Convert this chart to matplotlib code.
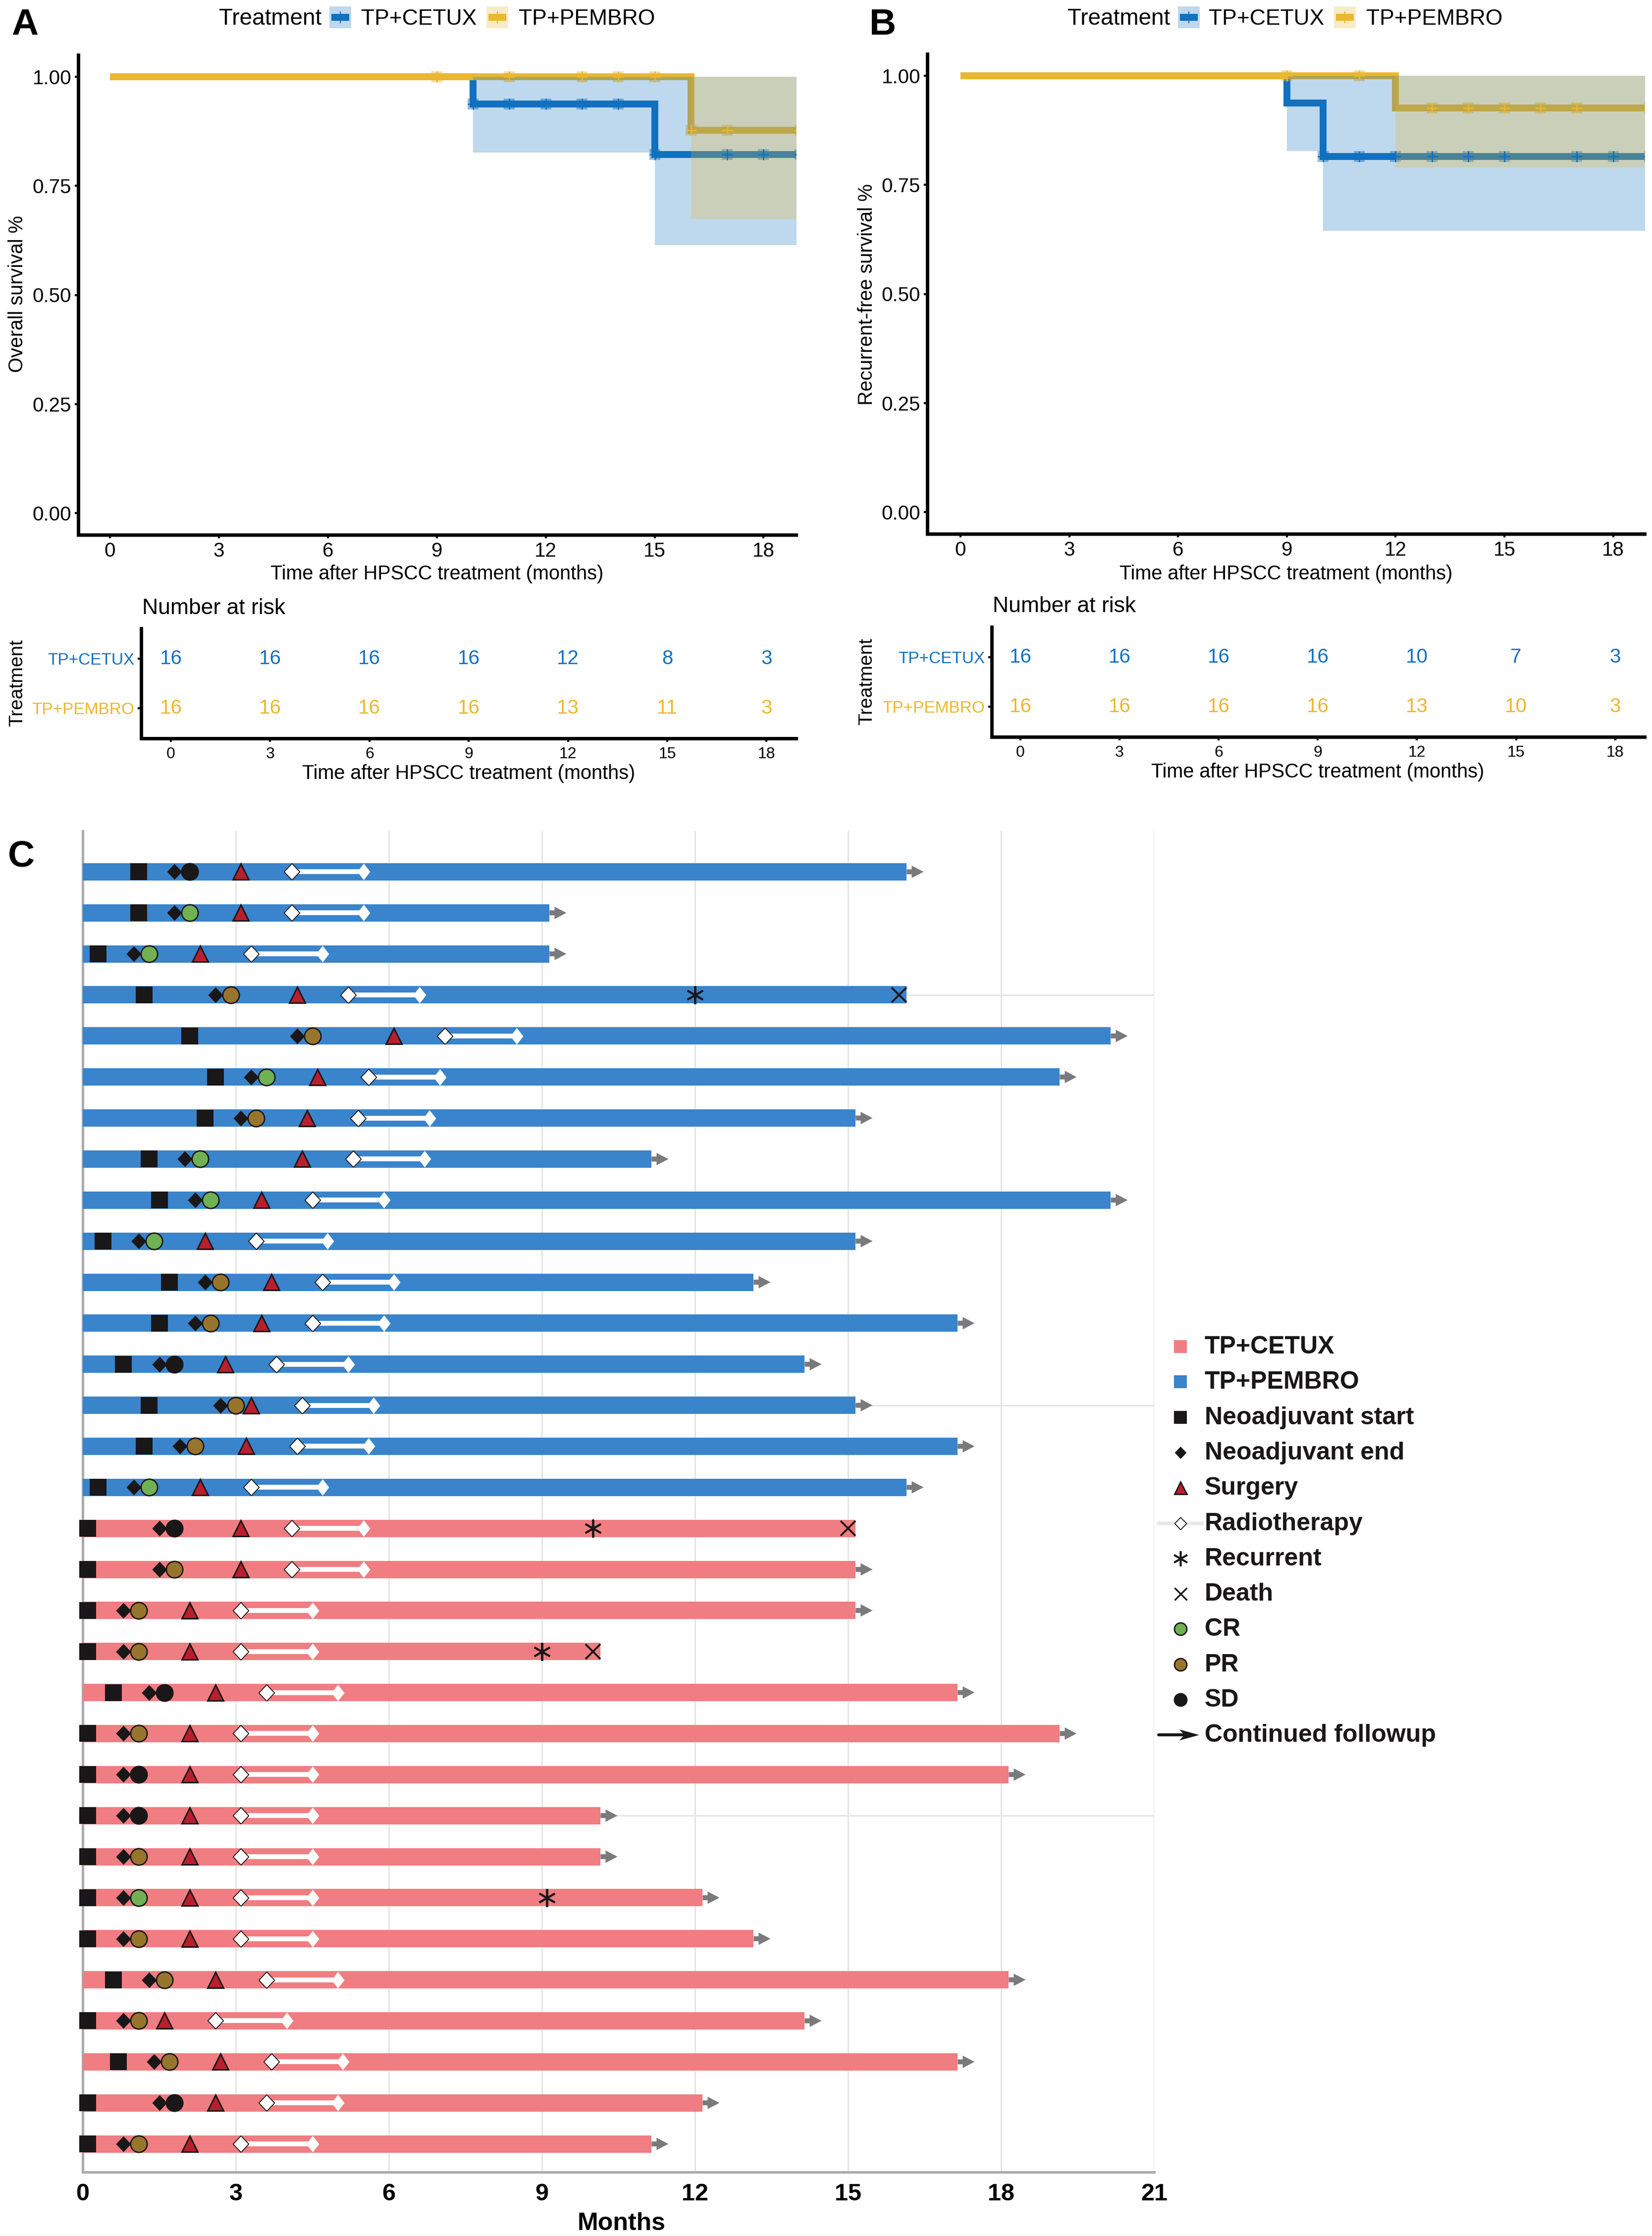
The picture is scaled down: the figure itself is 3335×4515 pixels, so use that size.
import matplotlib
matplotlib.use("Agg")
import matplotlib.pyplot as plt
from matplotlib.patches import Rectangle

W, H = 3335, 4515
plt.rcParams['font.family'] = ['Liberation Sans']

BLUE, GOLD = '#1170BF', '#EBB72F'
BAR_BLUE, BAR_RED = '#3A84CB', '#F07D82'
INK = '#1A1718'
RED_TRI, CR_C, PR_C = '#B81F2D', '#6FB153', '#98752D'
GREY_ARROW = '#7A7A7D'
TREATS = ['TP+CETUX', 'TP+PEMBRO']
KM_TICKS = [0, 3, 6, 9, 12, 15, 18]
KM_YTICKS = [0, 0.25, 0.5, 0.75, 1.0]

# Panel A: overall survival
A_ceT, A_ceS, A_ceL, A_ceU = [0, 10, 15, 19], [1, .9375, .822, .822], [1, .826, .614, .614], [1, 1, 1, 1]
A_peT, A_peS, A_peL, A_peU = [0, 16, 19], [1, .877, .877], [1, .674, .674], [1, 1, 1]
A_ceCens = [10, 11, 12, 13, 14, 15, 17, 18, 19]
A_peCens = [9, 11, 13, 14, 15, 16, 17, 19]
A_risk = [[16, 16, 16, 16, 12, 8, 3], [16, 16, 16, 16, 13, 11, 3]]

# Panel B: recurrence-free survival
B_ceT, B_ceS, B_ceL, B_ceU = [0, 9, 10, 19], [1, .9375, .8145, .8145], [1, .828, .645, .645], [1, 1, 1, 1]
B_peT, B_peS, B_peL, B_peU = [0, 12, 19], [1, .926, .926], [1, .79, .79], [1, 1, 1]
B_ceCens = [10, 11, 12, 13, 14, 15, 17, 18, 19]
B_peCens = [9, 11, 13, 14, 15, 16, 17, 19]
B_risk = [[16, 16, 16, 16, 10, 7, 3], [16, 16, 16, 16, 13, 10, 3]]

# Panel C: swimmer plot, top row first
neo_start = [1.1, 1.1, .3, 1.2, 2.1, 2.6, 2.4, 1.3, 1.5, .4, 1.7, 1.5, .8, 1.3, 1.2, .3,
             .1, .1, .1, .1, .6, .1, .1, .1, .1, .1, .1, .6, .1, .7, .1, .1]
neo_end = [1.8, 1.8, 1.0, 2.6, 4.2, 3.3, 3.1, 2.0, 2.2, 1.1, 2.4, 2.2, 1.5, 2.7, 1.9, 1.0,
           1.5, 1.5, .8, .8, 1.3, .8, .8, .8, .8, .8, .8, 1.3, .8, 1.4, 1.5, .8]
resp_time = [2.1, 2.1, 1.3, 2.9, 4.5, 3.6, 3.4, 2.3, 2.5, 1.4, 2.7, 2.5, 1.8, 3.0, 2.2, 1.3,
             1.8, 1.8, 1.1, 1.1, 1.6, 1.1, 1.1, 1.1, 1.1, 1.1, 1.1, 1.6, 1.1, 1.7, 1.8, 1.1]
resp_type = ['SD', 'CR', 'CR', 'PR', 'PR', 'CR', 'PR', 'CR', 'CR', 'CR', 'PR', 'PR', 'SD', 'PR', 'PR', 'CR',
             'SD', 'PR', 'PR', 'PR', 'SD', 'PR', 'SD', 'SD', 'PR', 'CR', 'PR', 'PR', 'PR', 'PR', 'SD', 'PR']
surgery = [3.1, 3.1, 2.3, 4.2, 6.1, 4.6, 4.4, 4.3, 3.5, 2.4, 3.7, 3.5, 2.8, 3.3, 3.2, 2.3,
           3.1, 3.1, 2.1, 2.1, 2.6, 2.1, 2.1, 2.1, 2.1, 2.1, 2.1, 2.6, 1.6, 2.7, 2.6, 2.1]
rt_start = [4.1, 4.1, 3.3, 5.2, 7.1, 5.6, 5.4, 5.3, 4.5, 3.4, 4.7, 4.5, 3.8, 4.3, 4.2, 3.3,
            4.1, 4.1, 3.1, 3.1, 3.6, 3.1, 3.1, 3.1, 3.1, 3.1, 3.1, 3.6, 2.6, 3.7, 3.6, 3.1]
rt_end = [5.5, 5.5, 4.7, 6.6, 8.5, 7.0, 6.8, 6.7, 5.9, 4.8, 6.1, 5.9, 5.2, 5.7, 5.6, 4.7,
          5.5, 5.5, 4.5, 4.5, 5.0, 4.5, 4.5, 4.5, 4.5, 4.5, 4.5, 5.0, 4.0, 5.1, 5.0, 4.5]
bar_end = [16.15, 9.15, 9.15, 16.15, 20.15, 19.15, 15.15, 11.15, 20.15, 15.15, 13.15, 17.15, 14.15, 15.15, 17.15, 16.15,
           15.15, 15.15, 15.15, 10.15, 17.15, 19.15, 18.15, 10.15, 10.15, 12.15, 13.15, 18.15, 14.15, 17.15, 12.15, 11.15]
bar_arm = ['PEMBRO'] * 16 + ['CETUX'] * 16
recurrent = {3: 12, 16: 10, 19: 9, 25: 9.1}
death = {3: 16, 16: 15, 19: 10}
grid_rows = [3, 13, 23]
C_TICKS = [0, 3, 6, 9, 12, 15, 18, 21]

LEGEND_LABELS = ['TP+CETUX', 'TP+PEMBRO', 'Neoadjuvant start', 'Neoadjuvant end', 'Surgery', 'Radiotherapy',
                 'Recurrent', 'Death', 'CR', 'PR', 'SD', 'Continued followup']

DIAMOND = [(0, -1), (.95, 0), (0, 1), (-.95, 0), (0, -1)]
RT_HEAD = [(0, -1), (.78, 0), (0, 1), (-.78, 0), (0, -1)]

fig = plt.figure(figsize=(W / 100, H / 100), dpi=100, facecolor='white')


def make_ax(L, T, R, B):
    return fig.add_axes([L / W, 1 - B / H, (R - L) / W, (B - T) / H])


def put(x, y, s, **kw):
    kw.setdefault('ha', 'center')
    kw.setdefault('va', 'center')
    return fig.text(x / W, 1 - y / H, s, **kw)


def km_panel(box, x0, unit, ce, pe, ceC, peC, ylabel, ylab_x):
    L, T, R, B = box
    ax = make_ax(L, T, R, B)
    ax.set_xlim((L - x0) / unit, (R - x0) / unit)
    ax.set_ylim(-0.05, 1.05)
    for (t, s, lo, up), col, cens, in ((ce, BLUE, ceC), (pe, GOLD, peC)):
        ax.step(t, s, where='post', color=col, lw=10, solid_joinstyle='miter', solid_capstyle='butt', zorder=2)
        ys = [s[[i for i, v in enumerate(t) if v <= c][-1]] for c in cens]
        ax.plot(cens, ys, ls='', marker='s', ms=16, color=col, alpha=.45, mew=0, zorder=2.1)
    for (t, s, lo, up), col in ((ce, BLUE), (pe, GOLD)):
        ax.fill_between(t, lo, up, step='post', color=col, alpha=.27, lw=0, zorder=3)
    for (t, s, lo, up), col, cens in ((ce, BLUE, ceC), (pe, GOLD, peC)):
        ys = [s[[i for i, v in enumerate(t) if v <= c][-1]] for c in cens]
        ax.plot(cens, ys, ls='', marker='+', ms=16, mew=2, color=col, zorder=4)
    for sp in ('top', 'right'):
        ax.spines[sp].set_visible(False)
    for sp in ('left', 'bottom'):
        ax.spines[sp].set_linewidth(5)
    ax.set_xticks(KM_TICKS)
    ax.set_yticks(KM_YTICKS, ['0.00', '0.25', '0.50', '0.75', '1.00'])
    ax.tick_params(length=5, width=3, pad=5, labelsize=29)
    put((L + R) / 2, 1159, 'Time after HPSCC treatment (months)', fontsize=28.5)
    put(ylab_x, 594, ylabel, rotation=90, fontsize=28.5)
    return ax


def risk_panel(box, x0, unit, risk, treat_x, dy):
    L, T, R, B = box
    ax = make_ax(L, T, R, B)
    ax.set_xlim((L - x0) / unit, (R - x0) / unit)
    ax.set_ylim(0.4, 2.6)
    ypos = [2, 1]
    cols = [BLUE, GOLD]
    for row, y, c in zip(risk, ypos, cols):
        for x, n in zip(KM_TICKS, row):
            ax.text(x, y, str(n), color=c, fontsize=29, ha='center', va='center')
    for sp in ('top', 'right'):
        ax.spines[sp].set_visible(False)
    for sp in ('left', 'bottom'):
        ax.spines[sp].set_linewidth(5)
    ax.set_xticks(KM_TICKS)
    ax.set_yticks(ypos, TREATS)
    ax.tick_params(length=5, width=3, pad=5, labelsize=24)
    ax.tick_params(axis='x', labelsize=23, pad=7)
    for lab, c in zip(ax.get_yticklabels(), cols):
        lab.set_color(c)
    put(x0 + 9 * unit, 1562 + dy, 'Time after HPSCC treatment (months)', fontsize=28.5)
    put(L + 2, 1228 + dy, 'Number at risk', ha='left', fontsize=32)
    put(treat_x, 1379 + dy, 'Treatment', rotation=90, fontsize=28)
    return ax


km_panel((158, 111, 1607, 1080), 222, 73.3, (A_ceT, A_ceS, A_ceL, A_ceU), (A_peT, A_peS, A_peL, A_peU),
         A_ceCens, A_peCens, 'Overall survival %', 35)
km_panel((1872, 109, 3320, 1078), 1939, 73.2, (B_ceT, B_ceS, B_ceL, B_ceU), (B_peT, B_peS, B_peL, B_peU),
         B_ceCens, B_peCens, 'Recurrent-free survival %', 1750)
risk_panel((285, 1269, 1607, 1491), 345, 66.8, A_risk, 35, 0)
risk_panel((2002, 1266, 3320, 1488), 2060, 66.7, B_risk, 1750, -3)

# Panel C
ROW0, ROWH = 1760.4, 82.86
UNIT = 103.0
cax = make_ax(167, 1678, 2330, 4385.5)
cax.set_xlim(0, 21)
cax.set_ylim((4385.5 - ROW0) / ROWH, (1678 - ROW0) / ROWH)
for sp in ('top', 'right'):
    cax.spines[sp].set_visible(False)
for sp in ('left', 'bottom'):
    cax.spines[sp].set_linewidth(3.6)
    cax.spines[sp].set_color('#ABABAE')
    cax.spines[sp].set_zorder(1.5)
cax.set_xticks(C_TICKS)
cax.set_yticks([])
cax.tick_params(length=0, pad=16, labelsize=35)
for lab in cax.get_xticklabels():
    lab.set_fontweight('bold')
cax.set_axisbelow(True)
for x in C_TICKS[1:]:
    cax.axvline(x, color='#E3E3E3', lw=2, zorder=0)
for r in grid_rows:
    cax.axhline(r, color='#E3E3E3', lw=2, zorder=0)

rows = range(len(bar_end))
cax.barh(list(rows), bar_end, height=35 / ROWH, color=[BAR_BLUE if a == 'PEMBRO' else BAR_RED for a in bar_arm], zorder=2)
for r in rows:
    cax.plot([rt_start[r], rt_end[r]], [r, r], color='white', lw=7, solid_capstyle='butt', zorder=3)
    if r not in death:
        cax.arrow(bar_end[r], r, .33, 0, width=10 / ROWH, head_width=25 / ROWH, head_length=24 / UNIT,
                  length_includes_head=True, color=GREY_ARROW, lw=0, zorder=3)
cax.plot(rt_end, rows, ls='', marker=RT_HEAD, ms=24, mfc='white', mec='white', mew=0, zorder=3.1)
kw = dict(ls='', clip_on=False, zorder=5)
cax.plot(neo_start, rows, marker='s', ms=24.5, mfc=INK, mew=0, **kw)
cax.plot(neo_end, rows, marker=DIAMOND, ms=23, mfc=INK, mew=0, **kw)
RESP_COL = {'CR': CR_C, 'PR': PR_C, 'SD': INK}
for t in RESP_COL:
    idx = [r for r in rows if resp_type[r] == t]
    cax.plot([resp_time[r] for r in idx], idx, marker='o', ms=24, mfc=RESP_COL[t], mec=INK, mew=2, **kw)
cax.plot(surgery, rows, marker='^', ms=23, mfc=RED_TRI, mec=INK, mew=2.2, **kw)
cax.plot(rt_start, rows, marker=DIAMOND, ms=24, mfc='white', mec=INK, mew=1.3, **kw)
cax.plot(list(recurrent.values()), list(recurrent.keys()), marker=(6, 2, 0), ms=26, color=INK, mew=2.8, **kw)
cax.plot(list(death.values()), list(death.keys()), marker='x', ms=22, color=INK, mew=2.8, **kw)
put(1255, 4490, 'Months', fontsize=36, fontweight='bold')

# Overlay in pixel units for legends and panel letters
ov = fig.add_axes([0, 0, 1, 1], zorder=10)
ov.set_xlim(0, W)
ov.set_ylim(H, 0)
ov.axis('off')


def km_legend(title_x, sw1, t1, sw2, t2):
    put(title_x, 38, 'Treatment', fontsize=33)
    for sx, col, tx, lab in ((sw1, BLUE, t1, TREATS[0]), (sw2, GOLD, t2, TREATS[1])):
        ov.add_patch(Rectangle((sx, 13), 44, 44, fc=col, alpha=.27, lw=0))
        ov.add_patch(Rectangle((sx + 4, 28), 36, 14, fc=col, lw=0))
        ov.plot([sx + 22, sx + 22], [24, 46], color=col, lw=1.6)
        put(tx, 38, lab, ha='left', fontsize=32)


km_legend(546, 665, 729, 982, 1047)
km_legend(2259, 2378, 2440, 2693, 2758)
put(50, 51, 'A', fontsize=54, fontweight='bold')
put(1782, 50, 'B', fontsize=54, fontweight='bold')
put(43, 1730, 'C', fontsize=54, fontweight='bold')

LX, LT, LY0, LDY = 2383, 2432, 2720, 71.3
for i, lab in enumerate(LEGEND_LABELS):
    put(LT, LY0 + i * LDY, lab, ha='left', fontsize=36, fontweight='bold', color=INK)
ym = [LY0 - 1 + i * LDY for i in range(12)]
mk = dict(ls='', zorder=5)
ov.add_patch(Rectangle((LX - 13, ym[0] - 13), 26, 26, fc=BAR_RED, lw=0))
ov.add_patch(Rectangle((LX - 13, ym[1] - 13), 26, 26, fc=BAR_BLUE, lw=0))
ov.plot(LX, ym[2], marker='s', ms=18.7, mfc=INK, mew=0, **mk)
ov.plot(LX, ym[3], marker=DIAMOND, ms=18, mfc=INK, mew=0, **mk)
ov.plot(LX, ym[4], marker='^', ms=18, mfc=RED_TRI, mec=INK, mew=2, **mk)
ov.plot([2339, 2426], [ym[5], ym[5]], color='#E8E8E8', lw=5.5, zorder=1)
ov.plot(LX, ym[5], marker=DIAMOND, ms=18, mfc='white', mec=INK, mew=1.3, **mk)
ov.plot(LX, ym[6], marker=(6, 2, 0), ms=22, color=INK, mew=2.6, **mk)
ov.plot(LX, ym[7], marker='x', ms=18, color=INK, mew=2.4, **mk)
for j, c in zip((8, 9, 10), (CR_C, PR_C, INK)):
    ov.plot(LX, ym[j], marker='o', ms=18, mfc=c, mec=INK, mew=2, **mk)
yA = ym[11]
ov.plot([2339, 2395], [yA, yA], color=INK, lw=4.3, solid_capstyle='round', zorder=5)
ov.fill([2421, 2381, 2391, 2381], [yA, yA - 11, yA, yA + 11], color=INK, lw=0, zorder=5)

fig.savefig('out.png', dpi=100, facecolor='white')
